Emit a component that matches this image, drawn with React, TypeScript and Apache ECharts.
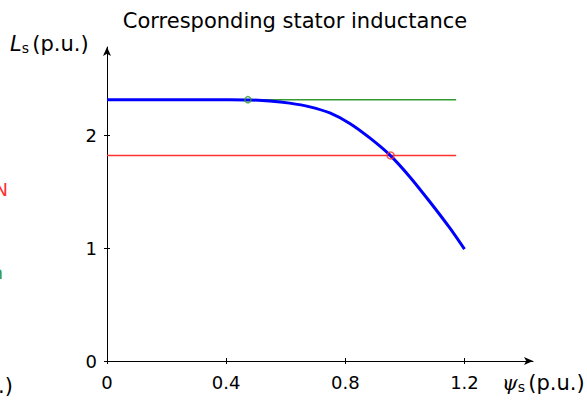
import React, { useEffect, useRef } from "react";
import * as echarts from "echarts";

const psi = [0, 0.2, 0.4, 0.48, 0.546, 0.613, 0.681, 0.748, 0.815, 0.882, 0.949, 1.016, 1.083, 1.15, 1.2];
const ls = [2.314, 2.314, 2.313, 2.311, 2.302, 2.283, 2.25, 2.196, 2.103, 1.975, 1.825, 1.632, 1.412, 1.18, 0.99];
const greenLine = [[0, 2.314], [1.172, 2.314]];
const redLine = [[0, 1.82], [1.172, 1.82]];
const greenPoint = [[0.473, 2.314]];
const redPoint = [[0.952, 1.82]];
const xTicks = [0, 0.4, 0.8, 1.2];
const yTicks = [0, 1, 2];
const titleText = "Corresponding stator inductance";

const FONT = "DejaVu Sans, Verdana, sans-serif";
const GREEN = "#339933";
const RED = "#ff3030";

export default function App() {
  const ref = useRef<HTMLDivElement>(null);
  useEffect(() => {
    if (!ref.current) return;
    const chart = echarts.init(ref.current, undefined, { renderer: "svg" });
    const xMain = {
      type: "value",
      min: 0,
      max: 1.43,
      splitLine: { show: false },
      axisLine: { show: true, lineStyle: { color: "#000", width: 1 }, symbol: ["none", "arrow"], symbolSize: [6, 9] },
      axisTick: { show: true, length: 3, inside: false, customValues: xTicks, lineStyle: { color: "#000" } },
      axisLabel: { customValues: xTicks, color: "#000", fontSize: 18, fontFamily: FONT, margin: 12, formatter: (v: number) => String(v) },
    };
    const yMain = {
      type: "value",
      min: 0,
      max: 2.78,
      splitLine: { show: false },
      axisLine: { show: true, lineStyle: { color: "#000", width: 1 }, symbol: ["none", "arrow"], symbolSize: [6, 9] },
      axisTick: { show: true, length: 3, inside: false, customValues: yTicks, lineStyle: { color: "#000" } },
      axisLabel: { customValues: yTicks, color: "#000", fontSize: 18, fontFamily: FONT, margin: 10, formatter: (v: number) => String(v) },
    };
    chart.setOption({
      animation: false,
      backgroundColor: "#ffffff",
      textStyle: { fontFamily: FONT },
      title: {
        text: titleText,
        left: 290,
        top: 5,
        textAlign: "center",
        textStyle: { fontFamily: FONT, fontSize: 21, fontWeight: "normal", color: "#000" },
      },
      grid: { left: 107, right: 54, top: 47, bottom: 41 },
      xAxis: [
        xMain,
        {
          type: "value", min: 0, max: 1.43, position: "bottom",
          splitLine: { show: false }, axisLine: { show: false },
          axisTick: { show: true, length: 3, inside: true, customValues: xTicks, lineStyle: { color: "#000" } },
          axisLabel: { show: false },
        },
      ],
      yAxis: [
        yMain,
        {
          type: "value", min: 0, max: 2.78, position: "left",
          splitLine: { show: false }, axisLine: { show: false },
          axisTick: { show: true, length: 3, inside: true, customValues: yTicks, lineStyle: { color: "#000" } },
          axisLabel: { show: false },
        },
      ],
      series: [
        { type: "line", data: greenLine, showSymbol: false, lineStyle: { color: GREEN, width: 1.5 }, z: 2 },
        { type: "line", data: redLine, showSymbol: false, lineStyle: { color: RED, width: 1.5 }, z: 2 },
        {
          type: "line",
          data: psi.map((p, i) => [p, ls[i]]),
          showSymbol: false,
          smooth: 0.3,
          lineStyle: { color: "#0000ff", width: 3 },
          z: 3,
        },
        { type: "scatter", data: greenPoint, symbol: "circle", symbolSize: 6, itemStyle: { color: "rgba(0,0,0,0)", borderColor: GREEN, borderWidth: 1.5 }, z: 4 },
        { type: "scatter", data: redPoint, symbol: "circle", symbolSize: 7, itemStyle: { color: "rgba(0,0,0,0)", borderColor: RED, borderWidth: 1.5 }, z: 4 },
      ],
      graphic: [
        {
          type: "text",
          left: 10,
          top: 33,
          style: {
            text: "{i|L}{s|s} {n|(p.u.)}",
            rich: {
              i: { fontFamily: FONT, fontSize: 21, fontStyle: "italic", fill: "#000" },
              s: { fontFamily: FONT, fontSize: 14, fill: "#000", padding: [9, 0, 0, 0] },
              n: { fontFamily: FONT, fontSize: 21, fill: "#000" },
            },
          },
        },
        {
          type: "text",
          left: 502,
          top: 372,
          style: {
            text: "{i|ψ}{s|s} {n|(p.u.)}",
            rich: {
              i: { fontFamily: "DejaVu Serif, serif", fontSize: 20, fontStyle: "italic", fill: "#000" },
              s: { fontFamily: FONT, fontSize: 14, fill: "#000", padding: [9, 0, 0, 0] },
              n: { fontFamily: FONT, fontSize: 21, fill: "#000" },
            },
          },
        },
        { type: "text", x: 8, y: 189, style: { text: "N", font: "18px " + FONT, fill: RED, align: "right", verticalAlign: "middle" } },
        { type: "text", x: 3, y: 272, style: { text: "m", font: "18px " + FONT, fill: GREEN, align: "right", verticalAlign: "middle" } },
        { type: "text", x: 13, y: 386, style: { text: "(p.u.)", font: "21px " + FONT, fill: "#000", align: "right", verticalAlign: "middle" } },
      ],
    });
    return () => chart.dispose();
  }, []);
  return <div ref={ref} style={{ width: 587, height: 402, position: "absolute", left: 0, top: 0 }} />;
}
